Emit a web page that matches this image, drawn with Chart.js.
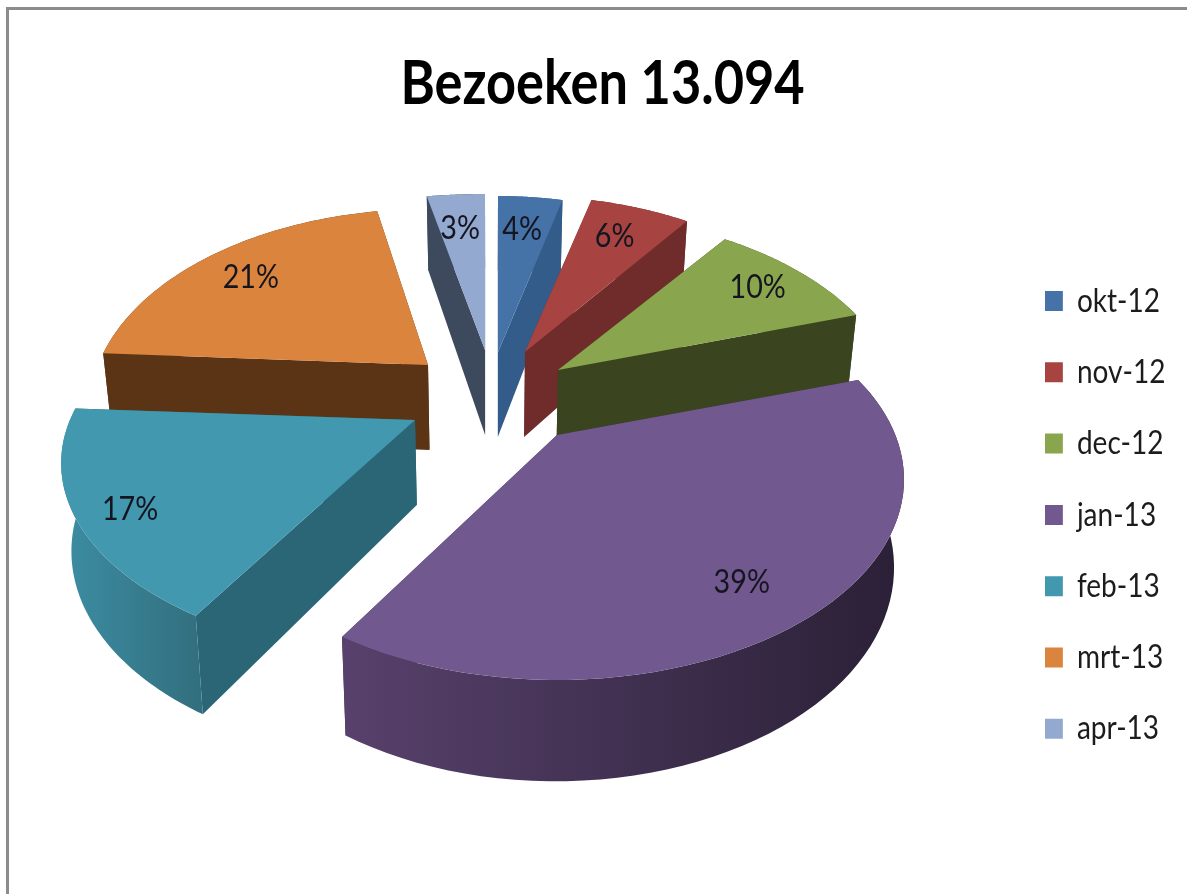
<!DOCTYPE html>
<html>
<head>
<meta charset="utf-8">
<title>Bezoeken 13.094</title>
<script src="https://cdn.jsdelivr.net/npm/chart.js@4/dist/chart.umd.min.js"></script>
<style>
  html, body { margin: 0; background: #fff; overflow: hidden; }
  #wrap { position: relative; width: 1187px; height: 894px; }
  #frame { position: absolute; left: 6px; top: 7px; right: 0; bottom: 0;
           border-left: 3px solid #8c8c8c; border-top: 3px solid #8c8c8c; }
</style>
</head>
<body>
<div id="wrap">
  <div id="frame"></div>
  <canvas id="visits-chart"></canvas>
</div>
<script>
const months = ["okt-12", "nov-12", "dec-12", "jan-13", "feb-13", "mrt-13", "apr-13"];
const shares = [4, 6, 10, 38.6, 17.4, 21, 3];

const topColors  = ["#4572a7", "#a74442", "#89a54e", "#71588f", "#4198af", "#db843d", "#93a9cf"];
const wallColors = ["#345c8a", "#6f2c2a", "#3a451f", "#3d2e4d", "#2b6676", "#5a3415", "#3d4a5e"];
const rimColors  = [
  ["#345c8a", "#345c8a"], ["#6f2c2a", "#6f2c2a"], ["#3a451f", "#3a451f"],
  ["#58416c", "#2a2036"], ["#3c8da3", "#33707f"], ["#5a3415", "#5a3415"], ["#3d4a5e", "#3d4a5e"]
];

// where each exploded slice has its tip, and its scale
const tips    = [[498, 352], [525, 352], [558, 370], [557, 435], [415, 420], [428, 365], [485, 350]];
const scalesX = [0.94, 0.97, 1, 1.01, 1.03, 0.985, 1.13];
const scalesY = [1, 1, 1, 1, 0.97, 1, 1];
const labelRadius = [0.78, 0.79, 0.83, 0.80, 0.86, 0.80, 0.77];
const labelFrac   = [0.46, 0.44, 0.47, 0.52, 0.47, 0.5, 0.47];
const paintOrder  = [6, 0, 1, 2, 5, 4, 3]; // back to front

// tilted pie: perspective on the ground plane, then a thickness
const radiusX = 335, radiusY = 190.6, persp = 0.222;
const thick = 85, thickPow = 0.7, vanishX = 490, vanishK = 0.024;

// the fonts here are wider than the original, so text gets squeezed
const textSqueeze = 0.87, legendSqueeze = 0.85, titleSqueeze = 0.857;
const titleCenterX = 602.5, legendX = 1045, legendFirstRowY = 301;

function project(i, a, r) {
  const X = r * Math.cos(a), Y = r * Math.sin(a), w = 1 - persp * Y;
  return {
    x: tips[i][0] + scalesX[i] * radiusX * X / w,
    y: tips[i][1] + scalesY[i] * radiusY * Y / w,
    w
  };
}

function drop(p) {
  const d = thick * Math.pow(1 / p.w, thickPow);
  return { x: p.x + (vanishX - p.x) * vanishK, y: p.y + d };
}

function poly(ctx, pts, fill) {
  ctx.beginPath();
  pts.forEach((p, n) => n ? ctx.lineTo(p.x, p.y) : ctx.moveTo(p.x, p.y));
  ctx.closePath();
  ctx.fillStyle = fill;
  ctx.fill();
}

const tiltedPie = {
  id: "tiltedPie",
  beforeDraw(chart) {
    if (chart.$squeezed) return;
    chart.$squeezed = true;
    const ctx = chart.ctx, title = chart.titleBlock, legend = chart.legend;

    const drawTitle = title.draw.bind(title);
    title.draw = () => {
      ctx.save();
      ctx.translate(titleCenterX, 0);
      ctx.scale(titleSqueeze, 1);
      ctx.translate(-chart.width / 2, 0);
      drawTitle();
      ctx.restore();
    };

    const drawLegend = legend.draw.bind(legend);
    legend.draw = () => {
      const first = legend.legendHitBoxes[0];
      ctx.save();
      ctx.translate(legendX, legendFirstRowY - (first.top + first.height / 2));
      ctx.scale(legendSqueeze, 1);
      ctx.translate(-first.left, 0);
      drawLegend();
      ctx.restore();
    };
  },
  beforeDatasetsDraw(chart) {
    const ctx = chart.ctx;
    const arcs = chart.getDatasetMeta(0).data;

    paintOrder.forEach(i => {
      const el = arcs[i], tip = project(i, 0, 0);
      const rim = [];
      for (let n = 0; n <= 60; n++) {
        rim.push(project(i, el.startAngle + (el.endAngle - el.startAngle) * n / 60, 1));
      }
      const rimLow = rim.map(drop).reverse();
      const xs = rim.map(p => p.x);
      const grad = ctx.createLinearGradient(Math.min(...xs), 0, Math.max(...xs), 0);
      grad.addColorStop(0, rimColors[i][0]);
      grad.addColorStop(1, rimColors[i][1]);

      [rim[0], rim[60]].forEach(end => {
        poly(ctx, [tip, end, drop(end), drop(tip)], wallColors[i]);
      });
      poly(ctx, rim.concat(rimLow), grad);
      poly(ctx, [tip].concat(rim), topColors[i]);
    });

    const total = shares.reduce((a, b) => a + b, 0);
    arcs.forEach((el, i) => {
      const a = el.startAngle + (el.endAngle - el.startAngle) * labelFrac[i];
      const p = project(i, a, labelRadius[i]);
      ctx.save();
      ctx.font = "33px Lato";
      ctx.fillStyle = "#15151f";
      ctx.textAlign = "center";
      ctx.textBaseline = "middle";
      ctx.translate(p.x, p.y + 3);
      ctx.scale(textSqueeze, 1);
      ctx.fillText(Math.round(shares[i] / total * 100) + "%", 0, 0);
      ctx.restore();
    });
    return false; // the default flat arcs stay undrawn
  }
};

new Chart(document.getElementById("visits-chart"), {
  type: "pie",
  data: {
    labels: months,
    datasets: [{ data: shares, backgroundColor: topColors, borderWidth: 0 }]
  },
  plugins: [tiltedPie],
  options: {
    responsive: true,
    maintainAspectRatio: false,
    animation: false,
    events: [],
    layout: { padding: { top: 48 } },
    plugins: {
      title: {
        display: true,
        text: "Bezoeken 13.094",
        color: "#000",
        font: { family: "Lato", size: 61, weight: "bold" },
        padding: { top: 0, bottom: 20 }
      },
      legend: {
        position: "right",
        labels: {
          color: "#1c1c1c",
          font: { family: "Lato", size: 33 },
          boxWidth: 21,
          boxHeight: 20,
          padding: 38.3
        }
      },
      tooltip: { enabled: false }
    }
  }
});
</script>
</body>
</html>
